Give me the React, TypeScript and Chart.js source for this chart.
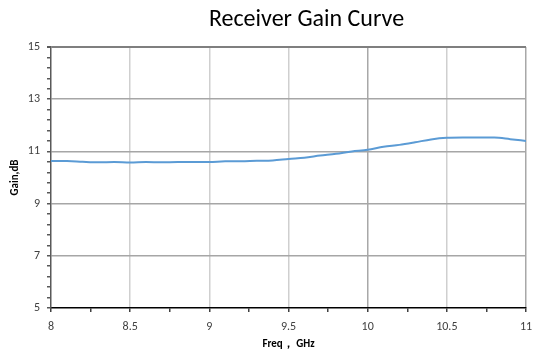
import React, { useEffect, useRef } from "react";
import { Chart, registerables } from "chart.js";

Chart.register(...registerables);

// Frequency sweep (GHz) and measured receiver gain (dB)
const freqGHz = [
  8.0, 8.1, 8.2, 8.3, 8.4, 8.5, 8.6, 8.7, 8.8, 8.9, 9.0,
  9.1, 9.2, 9.3, 9.4, 9.5, 9.6, 9.7, 9.8, 9.9, 10.0,
  10.1, 10.2, 10.3, 10.4, 10.5, 10.6, 10.7, 10.8, 10.9, 11.0,
];
const gainDb = [
  10.63, 10.63, 10.6, 10.58, 10.59, 10.57, 10.59, 10.58, 10.59, 10.59, 10.59,
  10.62, 10.62, 10.64, 10.65, 10.71, 10.76, 10.84, 10.91, 11.0, 11.06,
  11.18, 11.25, 11.35, 11.46, 11.52, 11.53, 11.53, 11.53, 11.47, 11.4,
];

const titleText = "Receiver Gain Curve";
const xTitle = "Freq\uFF0C GHz";
const yTitle = "Gain,dB";

const xMin = 8;
const xMax = 11;
const xMinorStep = 0.25;
const xMajorStep = 0.5;
const yMin = 5;
const yMax = 15;
const yMinorStep = 0.4;
const yMajorStep = 2;

const isMultiple = (v: number, step: number, base: number) => {
  const r = (v - base) / step;
  return Math.abs(r - Math.round(r)) < 1e-6;
};

const textFont = "Calibri, Carlito, 'Open Sans', 'Liberation Sans', sans-serif";

// Title drawn centred over the plot region
const titlePlugin = {
  id: "plotTitle",
  afterDraw(chart: any) {
    const { ctx, chartArea } = chart;
    ctx.save();
    ctx.font = `24px ${textFont}`;
    ctx.fillStyle = "#000000";
    ctx.textAlign = "center";
    ctx.textBaseline = "middle";
    ctx.fillText(titleText, (chartArea.left + chartArea.right) / 2 + 18, 20);
    ctx.restore();
  },
};

export default function App() {
  const canvasRef = useRef<HTMLCanvasElement | null>(null);

  useEffect(() => {
    if (!canvasRef.current) return;
    const chart = new Chart(canvasRef.current, {
      type: "line",
      data: {
        datasets: [
          {
            data: freqGHz.map((f, i) => ({ x: f, y: gainDb[i] })),
            borderColor: "#5b9bd5",
            borderWidth: 2,
            pointRadius: 0,
            tension: 0.4,
            cubicInterpolationMode: "monotone",
            fill: false,
          },
        ],
      },
      options: {
        animation: false,
        responsive: true,
        maintainAspectRatio: false,
        layout: { padding: { top: 47, right: 7, left: 0, bottom: 0 } },
        plugins: {
          legend: { display: false },
          title: { display: false },
          tooltip: { enabled: false },
        },
        scales: {
          x: {
            type: "linear",
            min: xMin,
            max: xMax,
            afterBuildTicks(scale: any) {
              const ticks = [];
              for (let i = 0; xMin + i * xMinorStep <= xMax + 1e-9; i++) {
                ticks.push({ value: +(xMin + i * xMinorStep).toFixed(4) });
              }
              scale.ticks = ticks;
            },
            afterFit(scale: any) {
              scale.height = 48;
              scale.paddingLeft = 0;
              scale.paddingRight = 0;
            },
            border: { display: true, color: "#000000", width: 1.5 },
            grid: {
              color: (c: any) => {
                const v = c.tick?.value;
                if (v === undefined || !isMultiple(v, xMajorStep, xMin) || v === xMin) return "rgba(0,0,0,0)";
                return v === 10 || v === 11 ? "#a8a8a8" : "#cfcfcf";
              },
              lineWidth: 1.5,
              tickColor: "#404040",
              tickLength: 4,
              drawTicks: true,
            },
            ticks: {
              autoSkip: false,
              maxRotation: 0,
              padding: 8,
              color: "#404040",
              font: { family: textFont, size: 12 },
              callback: (v: any) => (isMultiple(Number(v), xMajorStep, xMin) ? String(+Number(v).toFixed(2)) : ""),
            },
            title: {
              display: true,
              text: xTitle,
              color: "#000000",
              font: { family: textFont, size: 11, weight: "bold" },
              padding: { top: 2, bottom: 5 },
            },
          },
          y: {
            type: "linear",
            min: yMin,
            max: yMax,
            afterBuildTicks(scale: any) {
              const ticks = [];
              for (let i = 0; yMin + i * yMinorStep <= yMax + 1e-9; i++) {
                ticks.push({ value: +(yMin + i * yMinorStep).toFixed(4) });
              }
              scale.ticks = ticks;
            },
            afterFit(scale: any) {
              scale.width = 51;
            },
            border: { display: true, color: "#595959", width: 1.5 },
            grid: {
              color: (c: any) => {
                const v = c.tick?.value;
                if (v === undefined || !isMultiple(v, yMajorStep, yMin) || v === yMin) return "rgba(0,0,0,0)";
                return v === yMax ? "#7f7f7f" : "#a6a6a6";
              },
              lineWidth: (c: any) => (c.tick?.value === yMax ? 2 : 1.5),
              tickColor: "#595959",
              tickLength: 4,
            },
            ticks: {
              autoSkip: false,
              padding: 7,
              color: "#404040",
              font: { family: textFont, size: 12 },
              callback: (v: any) => (isMultiple(Number(v), yMajorStep, yMin) ? String(Math.round(Number(v))) : ""),
            },
            title: {
              display: true,
              text: yTitle,
              color: "#000000",
              font: { family: textFont, size: 11, weight: "bold" },
              padding: { top: 9, bottom: 0 },
            },
          },
        },
      },
      plugins: [titlePlugin],
    } as any);
    return () => chart.destroy();
  }, []);

  return (
    <div style={{ position: "absolute", left: 0, top: 0, width: 533, height: 356, background: "#ffffff" }}>
      <canvas ref={canvasRef} />
    </div>
  );
}
